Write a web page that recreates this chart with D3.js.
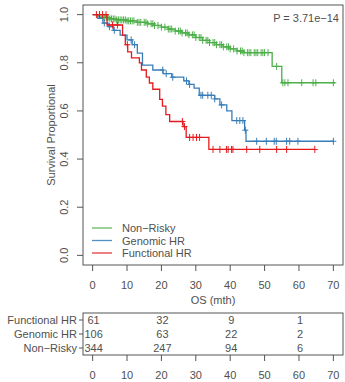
<!DOCTYPE html>
<html>
<head>
<meta charset="utf-8">
<script src="https://cdn.jsdelivr.net/npm/d3@7"></script>
<style>
body { margin: 0; background: #fff; }
text { font-family: "Liberation Sans", Arial, sans-serif; fill: #505050; }
</style>
</head>
<body>
<svg id="chart" width="345" height="382"></svg>
<script>
// survival steps [time, survival]
var greenSteps = [[0,1],[1.5,0.994],[3,0.988],[5,0.982],[7,0.978],[10,0.974],[13,0.968],[16,0.962],[18,0.955],[20,0.948],[22,0.94],[24,0.932],[26,0.924],[28,0.916],[30,0.905],[32,0.893],[34,0.884],[36,0.875],[38,0.866],[40,0.858],[42,0.849],[44,0.842],[52.2,0.785],[55,0.717]];
var greenCensor = [3,3.5,4,4.5,5,5.5,6,6.5,7,7.5,8,8.5,9,9.5,10,10.5,11,11.5,12,13,13.5,14,15,15.5,16,17,17.5,18,19,20,21,22,22.5,23,24,25,25.5,26,27,27.5,28,29,29.5,30,31,31.5,32,33,33.5,34,35,35.5,36,37,37.5,38,39,39.5,40,41,42,43,43.5,44,45,45.5,46,47,47.5,48,49,49.5,50,51,53.5,55.3,55.9,56.8,60.8,64.1,64.9,70];
var greenEnd = 70.5;

var blueSteps = [[0,1],[1.5,0.985],[3,0.965],[4.5,0.95],[6,0.935],[8,0.915],[10,0.895],[11.5,0.875],[13,0.84],[14.5,0.79],[17.5,0.77],[20.5,0.755],[23,0.74],[26.5,0.725],[28,0.71],[29.5,0.695],[31,0.665],[35.5,0.65],[37,0.625],[39,0.6],[40.5,0.56],[44.2,0.52],[44.6,0.474]];
var blueCensor = [3.4,4.9,6.3,11.2,12.2,20.4,21.4,23.3,27.3,28.2,31.5,32,33.5,34.5,35.5,37.5,41.9,42.8,43.7,44.4,47.7,50.5,52.8,53.4,56.4,57.3,59.7,70];
var blueEnd = 70.2;

var redSteps = [[0,1],[4.2,0.957],[8.7,0.915],[9.5,0.875],[10.2,0.845],[11.3,0.82],[13.6,0.8],[14.2,0.77],[15.6,0.74],[16.5,0.716],[17.5,0.69],[19.5,0.648],[20.3,0.62],[21.3,0.585],[22.4,0.556],[26.3,0.535],[27.2,0.49],[33.8,0.44]];
var redCensor = [1.1,2,2.9,3.9,5.8,7.2,10.1,26.1,26.7,28.2,29.2,30.2,31.1,35,37,38.9,39.4,40.4,40.8,44.8,48.6,53.5,56.4,64.6];
var redEnd = 64.6;

var groups = ["Non\u2212Risky","Genomic HR","Functional HR"];
var colors = ["#4DAF4A","#377EB8","#E41A1C"];
var xTicks = [0,10,20,30,40,50,60,70];
var yTicks = [0,0.2,0.4,0.6,0.8,1.0];
var riskTimes = [0,20,40,60];
var riskRows = ["Functional HR","Genomic HR","Non\u2212Risky"];
var riskFunctional = [61,32,9,1];
var riskGenomic = [106,63,22,2];
var riskNonRisky = [344,247,94,6];
var pText = "P = 3.71e\u221214";

var svg = d3.select("#chart");
var x = d3.scaleLinear().domain([-2.8,72.8]).range([83,343]);
var y = d3.scaleLinear().domain([-0.04,1.04]).range([265,5]);
var axisCol = "#555";

// plot box
svg.append("rect").attr("x",83).attr("y",5).attr("width",260).attr("height",260)
	.attr("fill","none").attr("stroke",axisCol).attr("stroke-width",1);

// y axis
var yAx = svg.append("g").attr("transform","translate(83,0)");
yTicks.forEach(function(t) {
	yAx.append("line").attr("x1",-6).attr("x2",0).attr("y1",y(t)).attr("y2",y(t)).attr("stroke",axisCol);
	yAx.append("text").attr("transform","translate(-15,"+y(t)+") rotate(-90)")
		.attr("text-anchor","middle").attr("font-size","11px").text(t.toFixed(1));
});
svg.append("text").attr("transform","translate(55,135) rotate(-90)")
	.attr("text-anchor","middle").attr("font-size","11px").text("Survival Proportional");

// x axis
var drawX = function(y0) {
	xTicks.forEach(function(t) {
		svg.append("line").attr("x1",x(t)).attr("x2",x(t)).attr("y1",y0).attr("y2",y0+6).attr("stroke",axisCol);
		svg.append("text").attr("x",x(t)).attr("y",y0+24).attr("text-anchor","middle")
			.attr("font-size","11px").text(t);
	});
};
drawX(265);
svg.append("text").attr("x",x(35)).attr("y",304).attr("text-anchor","middle")
	.attr("font-size","11px").text("OS (mth)");

// curves
var survAt = function(steps, t) {
	var s = 1;
	for (var i=0; i<steps.length; i++) {
		if (steps[i][0] <= t) s = steps[i][1];
	}
	return s;
};
var drawCurve = function(steps, censor, end, col) {
	var pts = [];
	steps.forEach(function(d) { pts.push([d[0], d[1]]); });
	pts.push([end, steps[steps.length-1][1]]);
	var line = d3.line().x(d => x(d[0])).y(d => y(d[1])).curve(d3.curveStepAfter);
	svg.append("path").attr("d", line(pts)).attr("fill","none")
		.attr("stroke",col).attr("stroke-width",1.3);
	censor.forEach(function(t) {
		var cx = x(t), cy = y(survAt(steps, t));
		svg.append("line").attr("x1",cx).attr("x2",cx).attr("y1",cy-3.5).attr("y2",cy+3.5)
			.attr("stroke",col).attr("stroke-width",1);
		svg.append("line").attr("x1",cx-3).attr("x2",cx+3).attr("y1",cy).attr("y2",cy)
			.attr("stroke",col).attr("stroke-width",1);
	});
};
drawCurve(greenSteps, greenCensor, greenEnd, colors[0]);
drawCurve(blueSteps, blueCensor, blueEnd, colors[1]);
drawCurve(redSteps, redCensor, redEnd, colors[2]);

svg.append("text").attr("x",339).attr("y",22).attr("text-anchor","end")
	.attr("font-size","11px").text(pText);

// legend
groups.forEach(function(g, i) {
	var ly = 228 + i*12.5;
	svg.append("line").attr("x1",92).attr("x2",112).attr("y1",ly).attr("y2",ly)
		.attr("stroke",colors[i]).attr("stroke-width",1.3).attr("opacity",0.85);
	svg.append("text").attr("x",122).attr("y",ly+4).attr("font-size","11px").text(g);
});

// risk table
svg.append("rect").attr("x",83).attr("y",313).attr("width",260).attr("height",42)
	.attr("fill","none").attr("stroke",axisCol).attr("stroke-width",1);
var riskVals = [riskFunctional, riskGenomic, riskNonRisky];
riskRows.forEach(function(r, i) {
	var ry = 320 + i*14;
	svg.append("line").attr("x1",79).attr("x2",83).attr("y1",ry).attr("y2",ry).attr("stroke",axisCol);
	svg.append("text").attr("x",77).attr("y",ry+4).attr("text-anchor","end")
		.attr("font-size","11px").text(r);
	riskTimes.forEach(function(t, j) {
		svg.append("text").attr("x",x(t)+1).attr("y",ry+4).attr("text-anchor","middle")
			.attr("font-size","11px").text(riskVals[i][j]);
	});
});
drawX(355);
</script>
</body>
</html>
